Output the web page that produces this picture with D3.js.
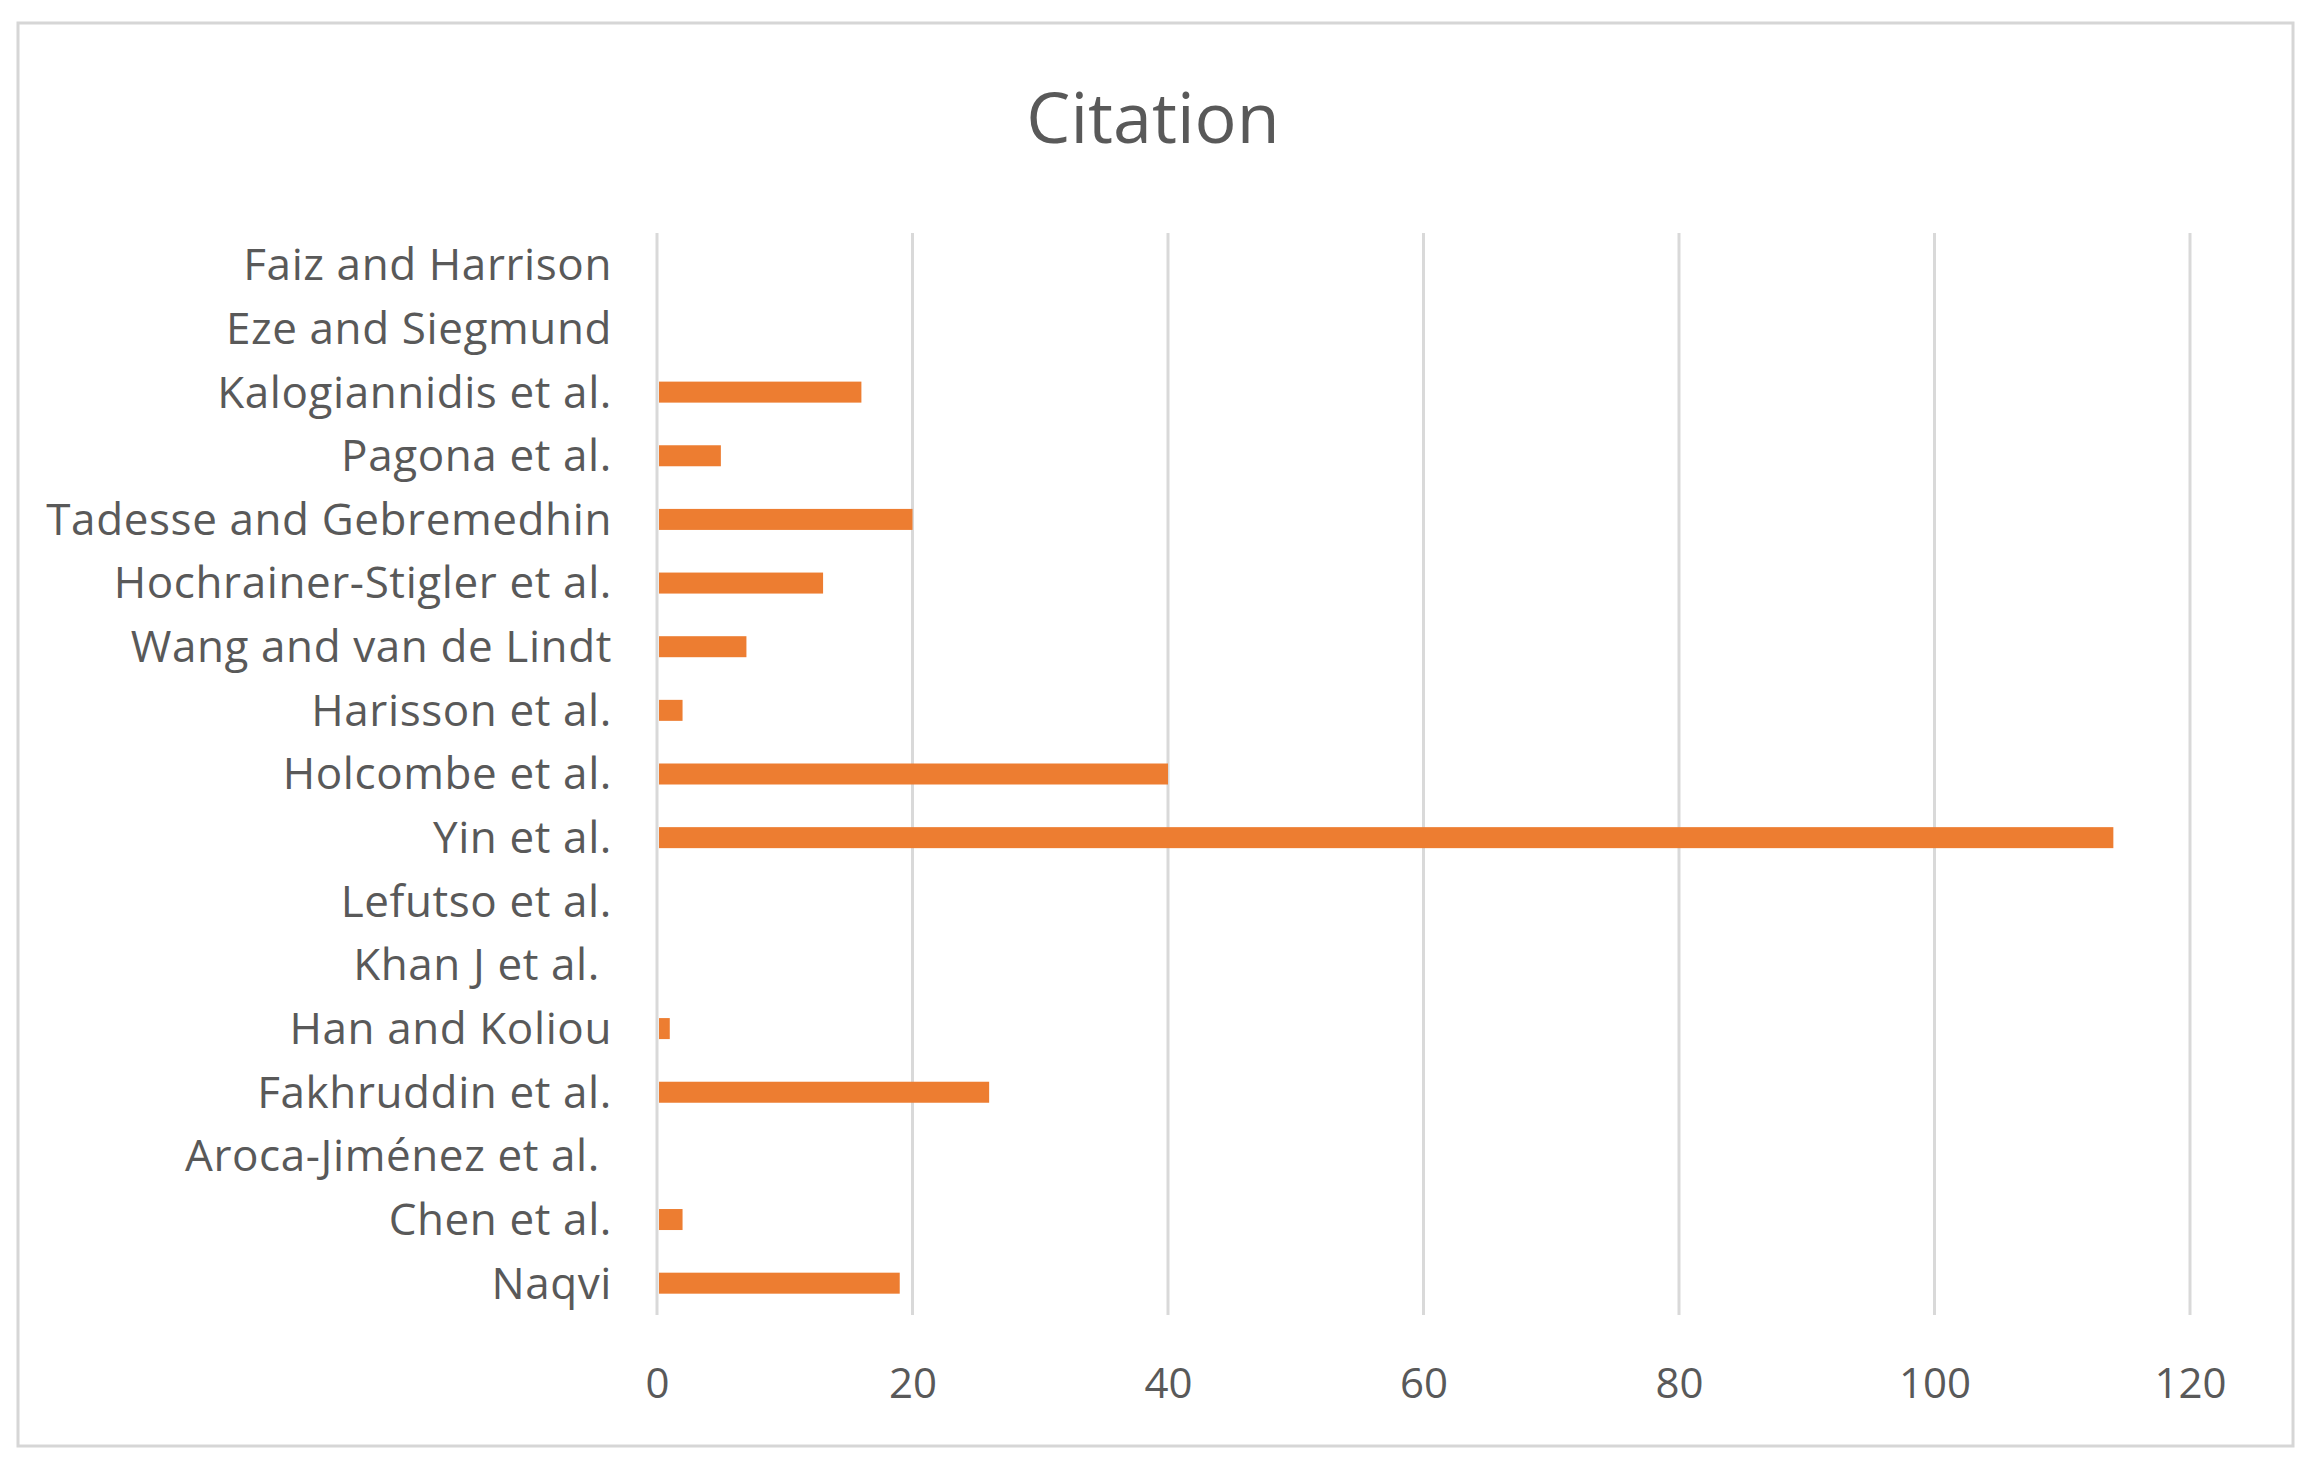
<!DOCTYPE html>
<html>
<head>
<meta charset="utf-8">
<script src="https://cdn.jsdelivr.net/npm/d3@7"></script>
<style>
  html, body { margin: 0; padding: 0; background: #ffffff; }
  svg { display: block; }
  text { font-family: "Open Sans", "Noto Sans", sans-serif; fill: #595959; white-space: pre; }
</style>
</head>
<body>
<svg id="chart" width="2312" height="1475"></svg>
<script>
// Data (top to bottom as shown in the chart)
const categories = [
  "Faiz and Harrison",
  "Eze and Siegmund",
  "Kalogiannidis et al.",
  "Pagona et al.",
  "Tadesse and Gebremedhin",
  "Hochrainer-Stigler et al.",
  "Wang and van de Lindt",
  "Harisson et al.",
  "Holcombe et al.",
  "Yin et al.",
  "Lefutso et al.",
  "Khan J et al. ",
  "Han and Koliou",
  "Fakhruddin et al.",
  "Aroca-Jiménez et al. ",
  "Chen et al.",
  "Naqvi"
];
const citations = [0, 0, 16, 5, 20, 13, 7, 2, 40, 114, 0, 0, 1, 26, 0, 2, 19];
const xTicks = [0, 20, 40, 60, 80, 100, 120];
const chartTitle = "Citation";

const svg = d3.select("#chart");
const plot = { left: 657, right: 2190, top: 233, bottom: 1315 };

// Outer border
svg.append("rect")
  .attr("x", 18).attr("y", 23)
  .attr("width", 2275).attr("height", 1423)
  .attr("fill", "#ffffff")
  .attr("stroke", "#d6d6d6")
  .attr("stroke-width", 3);

const x = d3.scaleLinear().domain([0, 120]).range([plot.left, plot.right]);
const y = d3.scaleBand().domain(categories).range([plot.top, plot.bottom])
  .paddingInner(0.67).paddingOuter(0.335);

// Gridlines
svg.append("g").selectAll("line").data(xTicks).join("line")
  .attr("x1", d => x(d)).attr("x2", d => x(d))
  .attr("y1", plot.top).attr("y2", plot.bottom)
  .attr("stroke", "#d9d9d9").attr("stroke-width", 3);

// Bars
svg.append("g").selectAll("rect").data(categories).join("rect")
  .attr("x", x(0) + 2)
  .attr("y", d => y(d))
  .attr("width", (d, i) => Math.max(0, x(citations[i]) - x(0) - 2))
  .attr("height", y.bandwidth())
  .attr("fill", "#ED7D31");

// Y axis labels
const yAxis = d3.axisLeft(y).tickSize(0).tickPadding(0);
const yg = svg.append("g").attr("transform", `translate(612,0)`).call(yAxis);
yg.select(".domain").remove();
yg.selectAll("text")
  .attr("font-size", 44)
  .attr("font-family", null)
  .attr("fill", "#595959")
  .attr("letter-spacing", "0.6px")
  .attr("dy", "0.35em")
  .style("white-space", "pre");

// X axis labels
const xAxis = d3.axisBottom(x).tickValues(xTicks).tickSize(0).tickPadding(0).tickFormat(d3.format("d"));
const xg = svg.append("g").attr("transform", `translate(0,1398)`).call(xAxis);
xg.select(".domain").remove();
xg.selectAll("text")
  .attr("font-size", 42)
  .attr("font-family", null)
  .attr("fill", "#595959")
  .attr("dy", 0)
  .attr("y", 0);

// Title
svg.append("text")
  .attr("x", 1153).attr("y", 143)
  .attr("text-anchor", "middle")
  .attr("font-size", 70)
  .attr("fill", "#595959")
  .text(chartTitle);
</script>
</body>
</html>
